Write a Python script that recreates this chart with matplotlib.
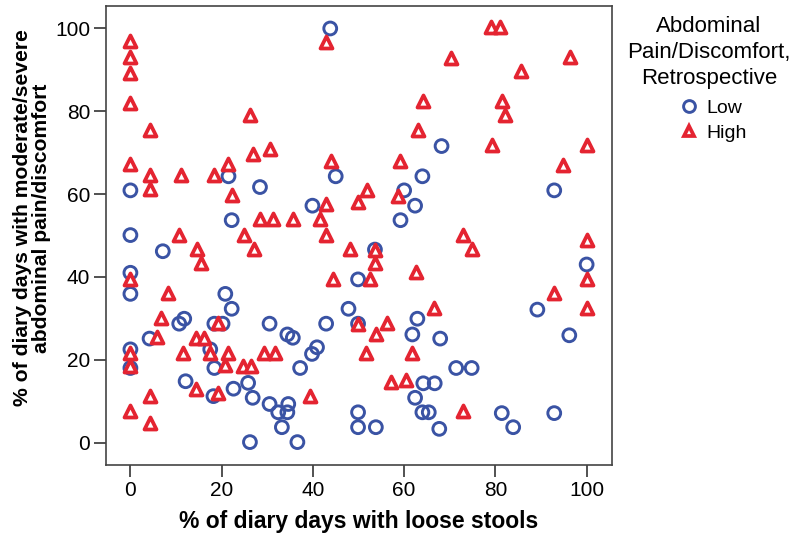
import matplotlib
matplotlib.use("Agg")
import matplotlib.pyplot as plt
from matplotlib.lines import Line2D

plt.rcParams['font.family'] = ['Liberation Sans', 'DejaVu Sans']

low_x = [43.8, 68.2, 45.0, 64.0, 60.0, 39.9, 62.4, 59.2, 0, 21.5, 28.4, 22.2, 0, 92.9,
         7.1, 53.6, 0, 0, 20.8, 22.2, 11.8, 10.7, 18.4, 20.2, 30.5, 34.4, 35.6, 4.2,
         0, 17.5, 0, 18.4, 37.2, 12.1, 25.8, 22.6, 18.2, 26.8, 30.5, 32.4, 34.6, 34.4,
         33.2, 26.2, 36.6, 49.9, 47.8, 62.9, 42.9, 49.9, 61.8, 67.9, 40.9, 39.8, 71.4,
         74.8, 64.2, 66.7, 62.4, 49.9, 64.0, 65.4, 49.9, 53.8, 67.7, 100.0, 89.2, 96.2,
         81.4, 83.9, 92.9]
low_y = [100.0, 71.6, 64.3, 64.3, 60.9, 57.2, 57.2, 53.7, 60.9, 64.3, 61.7, 53.7, 50.1, 60.9,
         46.2, 46.6, 41.0, 35.9, 35.9, 32.3, 29.9, 28.7, 28.7, 28.7, 28.7, 26.1, 25.3, 25.1,
         22.5, 22.5, 18.0, 18.0, 18.0, 14.8, 14.4, 13.0, 11.2, 10.8, 9.3, 7.3, 9.3, 7.3,
         3.7, 0.1, 0.1, 39.4, 32.3, 29.9, 28.7, 28.7, 26.1, 25.1, 23.0, 21.4, 18.0,
         18.0, 14.3, 14.3, 10.8, 7.3, 7.3, 7.3, 3.7, 3.7, 3.3, 43.0, 32.1, 25.9,
         7.1, 3.7, 7.1]

high_x = [0, 0, 0, 0, 4.2, 26.2, 0, 4.2, 11.1, 18.4, 21.5, 26.9, 30.5, 22.2, 4.2, 28.4,
          31.2, 35.6, 10.7, 24.9,
          42.9, 70.3, 64.2, 63.1, 44.0, 59.1, 51.9, 58.7, 49.9, 42.9, 41.6, 42.9, 73.0,
          79.1, 81.0, 96.4, 85.6, 81.4, 82.1, 79.2, 100.0, 94.8, 100.0,
          14.7, 27.1, 15.4, 0, 8.3, 6.7, 19.1, 5.9, 14.3, 16.2, 0, 11.6, 17.5, 21.5, 29.3,
          31.7, 0, 20.8, 24.7, 26.4, 14.3, 19.1, 4.2, 0, 4.3,
          48.1, 53.6, 74.9, 53.6, 62.7, 44.5, 52.6, 66.6, 49.9, 56.2, 53.9, 51.7, 61.8,
          57.1, 60.5, 39.3, 72.8, 100.0, 92.9, 100.0]
high_y = [96.9, 93.1, 89.3, 81.9, 75.4, 79.1, 67.3, 64.7, 64.7, 64.7, 67.3, 69.8, 70.8, 59.7,
          61.3, 54.0, 54.0, 54.0, 50.2, 50.2,
          96.7, 92.9, 82.6, 75.4, 68.1, 68.1, 61.1, 59.5, 58.1, 57.5, 53.9, 50.2, 50.2,
          100.4, 100.4, 93.1, 89.7, 82.6, 79.0, 71.8, 71.8, 67.1, 48.8,
          46.8, 46.8, 43.4, 39.5, 36.1, 30.1, 28.9, 25.5, 25.3, 25.3, 21.7, 21.7, 21.7, 21.7,
          21.7, 21.7, 18.4, 18.8, 18.4, 18.4, 13.0, 12.0, 11.2, 7.6, 4.7,
          46.8, 46.6, 46.8, 43.4, 41.1, 39.5, 39.5, 32.5, 28.7, 28.9, 26.2, 21.7, 21.7,
          14.6, 15.1, 11.2, 7.6, 39.5, 36.1, 32.5]

x_ticks = [0, 20, 40, 60, 80, 100]
y_ticks = [0, 20, 40, 60, 80, 100]
legend_labels = ["Low", "High"]
legend_title = "Abdominal\nPain/Discomfort,\nRetrospective"

blue = "#3a53a4"
red = "#e42431"

W, H = 800, 541
fig = plt.figure(figsize=(8, 5.41), dpi=100)
ax = fig.add_axes([106 / W, 1 - 465 / H, (612 - 106) / W, (465 - 5.7) / H])

ax.scatter(low_x, low_y, s=85, marker='o', facecolors='none', edgecolors=blue,
           linewidths=2.1, zorder=3)
ax.scatter(high_x, high_y, s=75, marker='^', facecolors='white', edgecolors=red,
           linewidths=2.7, zorder=3)

ax.set_xlim(-5.35, 105.56)
ax.set_ylim(-5.43, 105.5)
ax.set_xticks(x_ticks)
ax.set_yticks(y_ticks)
ax.tick_params(direction='out', length=8.5, width=1.2, labelsize=15, color='#333333', pad=3)
for s in ax.spines.values():
    s.set_color('#444444')
    s.set_linewidth(1.2)

ax.set_xlabel("% of diary days with loose stools", fontsize=16.5, fontweight='bold', labelpad=7)
ax.set_ylabel("% of diary days with moderate/severe\nabdominal pain/discomfort",
              fontsize=15.2, fontweight='bold', linespacing=1.0)
ax.yaxis.set_label_coords(-0.109, (465 - 218) / (465 - 5.7))

fig.text(709 / W, 1 - 16 / H, legend_title, ha='center', va='top', fontsize=16,
         linespacing=1.3, multialignment='center')

handles = [Line2D([], [], marker='o', linestyle='none', markerfacecolor='none',
                  markeredgecolor=blue, markeredgewidth=2.1, markersize=8.5),
           Line2D([], [], marker='^', linestyle='none', markerfacecolor='white',
                  markeredgecolor=red, markeredgewidth=2.7, markersize=7.5)]
leg = fig.legend(handles, legend_labels, loc='upper center',
                 bbox_to_anchor=(712 / W, 1 - 99 / H), frameon=False, fontsize=14,
                 handletextpad=0.3, borderaxespad=0, borderpad=0,
                 labelspacing=0.4, handlelength=1.2)

fig.savefig("out.png", dpi=100)
